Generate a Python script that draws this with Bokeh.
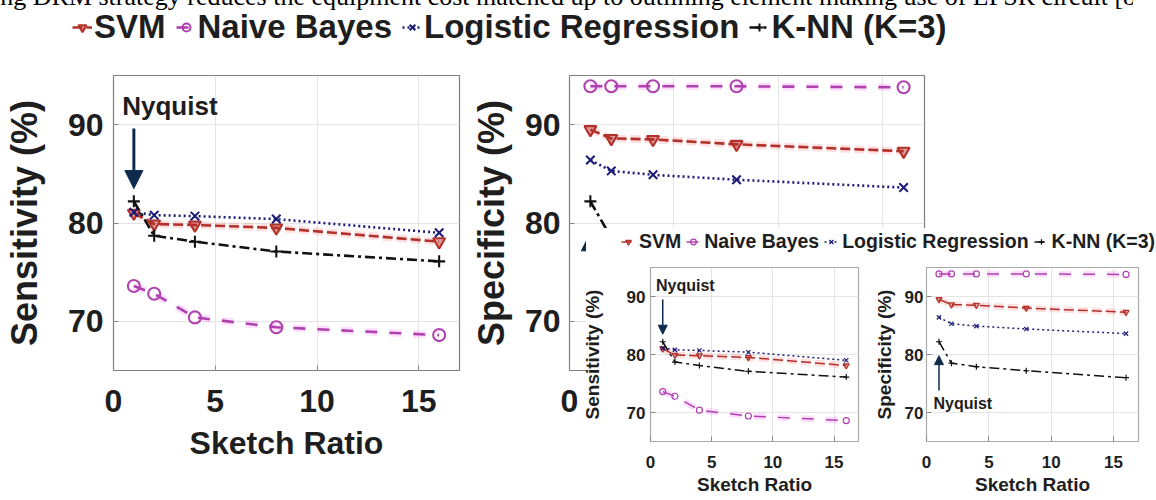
from bokeh.plotting import figure
from bokeh.models import (Column, Div, Legend, LegendItem, Range1d, FixedTicker,
                          Arrow, NormalHead, Label, ColumnDataSource)
from bokeh.embed import file_html
from bokeh.resources import INLINE

# ---------------- data ----------------
sketch_ratio = [1, 2, 4, 8, 16]

sens_svm = [81.0, 79.9, 79.8, 79.5, 78.1]
sens_nb = [73.6, 72.8, 70.4, 69.4, 68.6]
sens_lr = [81.1, 80.8, 80.7, 80.4, 79.0]
sens_knn = [82.2, 78.7, 78.1, 77.1, 76.1]

spec_svm = [89.5, 88.6, 88.5, 88.0, 87.3]
spec_nb = [93.9, 93.9, 93.9, 93.9, 93.8]
spec_lr = [86.4, 85.3, 84.9, 84.4, 83.6]
spec_knn = [82.2, 78.5, 77.9, 77.2, 76.0]

series_names = ["SVM", "Naive Bayes", "Logistic Regression", "K-NN (K=3)"]
x_ticks = [0, 5, 10, 15]
y_ticks = [70, 80, 90]
caption = ("ing DRM strategy reduces the equipment cost matched up to outlining "
           "element making use of LPSR circuit [8")

# ---------------- style ----------------
FONT = "Liberation Sans"
TEXT = "#1e1e1e"
COLORS = ["#b3302b", "#b041b0", "#1d1d78", "#111111"]
HALO = ["#ff5050", "#ff50ff", None, None]
DASHES = ["10 4", "12 12", "2 3", "10 4 3 4"]
MARKERS = ["inverted_triangle", "circle", "x", "cross"]
NAVY = "#0d2a4d"


def place(el, x, y, extra=None):
    # x, y: top-left corner in screenshot pixels
    st = {"position": "absolute", "left": f"{x}px", "top": f"{y}px"}
    if extra:
        st.update(extra)
    el.styles = st
    return el


def draw_series(p, ys, lw, ms, halo=True):
    rends = []
    for name, y, c, hc, d, m in zip(series_names, ys, COLORS, HALO, DASHES, MARKERS):
        src = ColumnDataSource(dict(x=sketch_ratio, y=y))
        if halo and hc is not None:
            p.line("x", "y", source=src, line_color=hc, line_alpha=0.18,
                   line_width=lw + 5, line_dash=d)
        ln = p.line("x", "y", source=src, line_color=c, line_width=lw, line_dash=d)
        sc = p.scatter("x", "y", source=src, marker=m, size=ms, line_color=c,
                       line_width=max(1.2, lw * 0.8),
                       fill_color=c if m == "inverted_triangle" else None,
                       fill_alpha=0.45)
        rends.append([ln, sc])
    return rends


def panel(w, h, mb, tick_fs, label_fs, xlabel, ylabel, ytick_so, xtick_so, ylab_so,
          xlab_so, xaxis_ticks=None, outline="#7f7f7f"):
    p = figure(width=w, height=h, x_range=Range1d(0, 17), y_range=Range1d(65, 95),
               toolbar_location=None, output_backend="svg", frame_align=False,
               min_border_left=mb[0], min_border_right=mb[1],
               min_border_top=mb[2], min_border_bottom=mb[3])
    p.background_fill_color = "white"
    p.border_fill_alpha = 0.0
    p.outline_line_color = outline
    p.outline_line_width = 1.2
    p.xaxis.ticker = FixedTicker(ticks=xaxis_ticks if xaxis_ticks is not None else x_ticks)
    p.yaxis.ticker = FixedTicker(ticks=y_ticks)
    p.xgrid.ticker = FixedTicker(ticks=x_ticks[1:])
    p.ygrid.ticker = FixedTicker(ticks=y_ticks)
    p.grid.grid_line_color = "#e4e4e4"
    p.grid.grid_line_width = 1
    for ax in p.axis:
        ax.axis_line_color = None
        ax.major_tick_in = 5
        ax.major_tick_out = 0
        ax.major_tick_line_color = "#888888"
        ax.minor_tick_line_color = None
        ax.major_label_text_font = FONT
        ax.major_label_text_font_style = "bold"
        ax.major_label_text_font_size = tick_fs
        ax.major_label_text_color = TEXT
        ax.axis_label_text_font = FONT
        ax.axis_label_text_font_style = "bold"
        ax.axis_label_text_color = TEXT
    p.yaxis.major_label_standoff = ytick_so
    p.xaxis.major_label_standoff = xtick_so
    p.xaxis.axis_label = xlabel
    p.yaxis.axis_label = ylabel
    p.xaxis.axis_label_text_font_size = label_fs[0]
    p.yaxis.axis_label_text_font_size = label_fs[1]
    p.xaxis.axis_label_standoff = xlab_so
    p.yaxis.axis_label_standoff = ylab_so
    return p


def nyquist(p, text, tx, ty, fs, y0, y1, size, lw):
    p.add_layout(Arrow(end=NormalHead(size=size, fill_color=NAVY, line_color=NAVY),
                       x_start=1, y_start=y0, x_end=1, y_end=y1,
                       line_color=NAVY, line_width=lw))
    if text:
        p.add_layout(Label(x=tx, y=ty, text=text, text_font=FONT, text_font_style="bold",
                           text_font_size=fs, text_color=TEXT, text_baseline="alphabetic"))


def legend_fig(w, h, fs, gw, so, sp, lw, ms, margin):
    p = figure(width=w, height=h, x_range=Range1d(100, 101), y_range=Range1d(100, 101),
               toolbar_location=None, output_backend="svg", min_border=0,
               frame_align=False, x_axis_type=None, y_axis_type=None)
    p.grid.visible = False
    p.outline_line_color = None
    p.border_fill_alpha = 0.0
    p.background_fill_alpha = 0.0
    rends = draw_series(p, [sens_svm, sens_nb, sens_lr, sens_knn], lw, ms, halo=False)
    items = [LegendItem(label=n, renderers=r) for n, r in zip(series_names, rends)]
    leg = Legend(items=items, orientation="horizontal", location="center_left",
                 margin=margin, padding=0, spacing=sp, glyph_width=gw, glyph_height=gw,
                 label_standoff=so, label_text_font=FONT, label_text_font_style="bold",
                 label_text_font_size=fs, label_text_color=TEXT,
                 border_line_color=None, background_fill_alpha=0.0)
    p.add_layout(leg, "center")
    return p


# ---------------- caption (cut off at top) ----------------
cap = Div(text=caption, width=1160, height=28, margin=0)
place(cap, -7, -16, {"font-family": "Liberation Serif", "font-size": "26px",
                     "line-height": "26px", "white-space": "nowrap", "overflow": "hidden",
                     "color": "#000000"})

# ---------------- big left: sensitivity ----------------
figL = panel(470, 430, (107, 11, 25, 110), "32px", ("32px", "36px"),
             "Sketch Ratio", "Sensitivity (%)", 10, 19, 20, 10)
draw_series(figL, [sens_svm, sens_nb, sens_lr, sens_knn], 2.6, 12)
nyquist(figL, "Nyquist", 0.43, 91.9, "26px", 89.6, 83.5, 18, 3)
place(figL, 0, 50)

# ---------------- big right: specificity ----------------
figR = panel(520, 430, (149, 16, 25, 110), "32px", ("32px", "36px"),
             None, "Specificity (%)", 9, 19, 10, 10, xaxis_ticks=[0])
draw_series(figR, [spec_svm, spec_nb, spec_lr, spec_knn], 2.6, 12)
nyquist(figR, None, 0, 0, "1px", 70.0, 79.0, 18, 3)
place(figR, 420, 50)

# ---------------- big legend ----------------
legBig = legend_fig(910, 44, "33px", 20, 2, 10, 2.6, 11, 10)
place(legBig, 62, 5)

# ---------------- inset (white box overlaying the right panel) ----------------
box = Div(text="", width=570, height=272, margin=0)
place(box, 586, 228, {"background-color": "white"})

legSmall = legend_fig(570, 26, "19.5px", 14, 4, 5, 1.6, 7, 35)
place(legSmall, 586, 228)

insL = panel(292, 246, (67, 12, 13, 59), "17px", ("19px", "19px"),
             "Sketch Ratio", "Sensitivity (%)", 5, 14, 21, 3, outline="#aaaaaa")
draw_series(insL, [sens_svm, sens_nb, sens_lr, sens_knn], 1.5, 6)
nyquist(insL, "Nyquist", 0.45, 91.9, "16px", 89.5, 83.5, 9, 1.5)
place(insL, 578, 254)

insR = panel(286, 246, (55, 18, 13, 59), "17px", ("19px", "19px"),
             "Sketch Ratio", "Specificity (%)", 3, 14, 7, 3, outline="#aaaaaa")
draw_series(insR, [spec_svm, spec_nb, spec_lr, spec_knn], 1.5, 6)
nyquist(insR, "Nyquist", 0.56, 71.6, "16px", 73.8, 79.8, 9, 1.5)
place(insR, 870, 254)

layout = Column(children=[cap, figL, figR, legBig, box, legSmall, insL, insR],
                width=1140, height=484, sizing_mode="fixed",
                styles={"position": "relative", "overflow": "visible"})

open("out.html", "w").write(file_html(layout, INLINE, title="Sketch ratio"))
